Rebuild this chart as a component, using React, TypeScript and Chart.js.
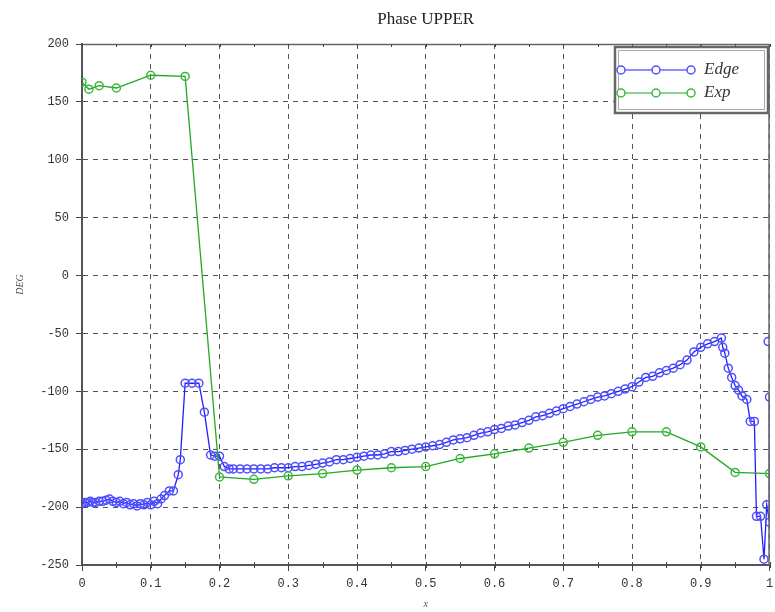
import React, { useEffect, useRef } from "react";
import { Chart, registerables } from "chart.js";

Chart.register(...registerables);

const chartTitle = "Phase UPPER";
const xAxisTitle = "x";
const yAxisTitle = "DEG";

const edgeLabel = "Edge";
const expLabel = "Exp";

const edgeX = [
  0.0, 0.004, 0.008, 0.012, 0.016, 0.02, 0.025, 0.03, 0.035, 0.04, 0.045, 0.05, 0.055, 0.06, 0.065, 0.07,
  0.075, 0.08, 0.085, 0.09, 0.095, 0.1, 0.105, 0.11, 0.115, 0.12, 0.127, 0.133, 0.14, 0.143, 0.15, 0.16,
  0.17, 0.178, 0.187, 0.193, 0.2, 0.207, 0.214, 0.22, 0.23, 0.24, 0.25, 0.26, 0.27, 0.28, 0.29, 0.3,
  0.31, 0.32, 0.33, 0.34, 0.35, 0.36, 0.37, 0.38, 0.39, 0.4, 0.41, 0.42, 0.43, 0.44, 0.45, 0.46, 0.47,
  0.48, 0.49, 0.5, 0.51, 0.52, 0.53, 0.54, 0.55, 0.56, 0.57, 0.58, 0.59, 0.6, 0.61, 0.62, 0.63, 0.64,
  0.65, 0.66, 0.67, 0.68, 0.69, 0.7, 0.71, 0.72, 0.73, 0.74, 0.75, 0.76, 0.77, 0.78, 0.79, 0.8, 0.81,
  0.82, 0.83, 0.84, 0.85, 0.86, 0.87, 0.88, 0.89, 0.9, 0.91, 0.92, 0.93, 0.932, 0.935, 0.94, 0.945,
  0.95, 0.955, 0.96, 0.967, 0.972, 0.978, 0.981, 0.987, 0.992, 0.996, 1.0, 1.0, 1.0, 0.998,
];
const edgeY: (number | null)[] = [
  -197, -196, -196, -195, -196, -196, -195, -195, -194, -193, -195, -196, -195, -197, -196, -198,
  -197, -199, -197, -198, -196, -198, -195, -197, -193, -190, -186, -186, -172, -159, -93, -93,
  -93, -118, -155, -156, -156, -165, -167, -167, -167, -167, -167, -167, -167, -166, -166, -166,
  -165, -165, -164, -163, -162, -161, -159, -159, -158, -157, -156, -155, -155, -154, -152, -152, -151,
  -150, -149, -148, -147, -146, -144, -142, -141, -140, -138, -136, -135, -133, -132, -130, -129, -127,
  -125, -122, -121, -119, -117, -115, -113, -111, -109, -107, -105, -104, -102, -100, -98, -96, -92,
  -88, -87, -84, -82, -80, -77, -73, -66, -62, -59, -57, -54, -62, -67, -80, -88,
  -95, -99, -104, -107, -126, -126, -208, -208, -245, -198, -213, -105, null, -57,
];

const expX = [
  0.0, 0.01, 0.025, 0.05, 0.1, 0.15, 0.2, 0.25, 0.3, 0.35, 0.4, 0.45, 0.5, 0.55, 0.6, 0.65, 0.7, 0.75,
  0.8, 0.85, 0.9, 0.95, 1.0,
];
const expY = [
  167, 161, 164, 162, 173, 172, -174, -176, -173, -171, -168, -166, -165, -158, -154, -149, -144, -138,
  -135, -135, -148, -170, -171,
];

const xMin = 0;
const xMax = 1;
const xStep = 0.1;
const yMin = -250;
const yMax = 200;
const yStep = 50;

const EDGE_COLOR = "#1f1fff";
const EDGE_POINT = "#4f4fff";
const EXP_COLOR = "#22a822";
const EXP_POINT = "#3cb83c";

const frameAndLegend = {
  id: "frameAndLegend",
  afterDraw(chart: any) {
    const ctx = chart.ctx as CanvasRenderingContext2D;
    const a = chart.chartArea;
    const xs = chart.scales.x;
    ctx.save();
    // top & right frame
    ctx.strokeStyle = "#666";
    ctx.lineWidth = 1.5;
    ctx.beginPath();
    ctx.moveTo(a.left, a.top + 0.5);
    ctx.lineTo(a.right, a.top + 0.5);
    ctx.moveTo(a.right - 0.5, a.top);
    ctx.lineTo(a.right - 0.5, a.bottom);
    ctx.stroke();
    // minor ticks x bottom and top ticks
    ctx.strokeStyle = "#444";
    ctx.lineWidth = 1;
    ctx.beginPath();
    for (let v = xMin; v <= xMax + 1e-9; v += xStep / 2) {
      const px = Math.round(xs.getPixelForValue(v)) + 0.5;
      ctx.moveTo(px, a.bottom - 3);
      ctx.lineTo(px, a.bottom + 3);
      ctx.moveTo(px, a.top);
      ctx.lineTo(px, a.top + 3);
    }
    ctx.stroke();

    // title
    ctx.fillStyle = "#222";
    ctx.font = "17px 'Liberation Serif', serif";
    ctx.textAlign = "center";
    ctx.textBaseline = "middle";
    ctx.fillText(chartTitle, (a.left + a.right) / 2, 20);

    // axis titles
    ctx.font = "italic 10px 'Liberation Serif', serif";
    ctx.fillStyle = "#555";
    ctx.fillText(xAxisTitle, (a.left + a.right) / 2, 604);
    ctx.save();
    ctx.translate(20, (a.top + a.bottom) / 2 - 20);
    ctx.rotate(-Math.PI / 2);
    ctx.fillText(yAxisTitle, 0, 0);
    ctx.restore();

    // legend
    const lx = 615, ly = 47, lw = 153, lh = 66;
    ctx.fillStyle = "#fff";
    ctx.fillRect(lx, ly, lw, lh);
    ctx.strokeStyle = "#666";
    ctx.lineWidth = 2.5;
    ctx.strokeRect(lx, ly, lw, lh);
    ctx.strokeStyle = "#aaa";
    ctx.lineWidth = 1;
    ctx.strokeRect(lx + 3.5, ly + 3.5, lw - 7, lh - 7);
    const items = [
      { label: edgeLabel, color: EDGE_COLOR, pcolor: EDGE_POINT, y: 70 },
      { label: expLabel, color: EXP_COLOR, pcolor: EXP_POINT, y: 93 },
    ];
    for (const it of items) {
      ctx.strokeStyle = it.color;
      ctx.lineWidth = 1;
      ctx.beginPath();
      ctx.moveTo(621, it.y);
      ctx.lineTo(691, it.y);
      ctx.stroke();
      ctx.strokeStyle = it.pcolor;
      ctx.lineWidth = 1.5;
      for (const px of [621, 656, 691]) {
        ctx.beginPath();
        ctx.arc(px, it.y, 4, 0, Math.PI * 2);
        ctx.fillStyle = "#fff";
        ctx.fill();
        ctx.stroke();
      }
      ctx.fillStyle = "#333";
      ctx.font = "italic 17px 'Liberation Serif', serif";
      ctx.textAlign = "left";
      ctx.textBaseline = "middle";
      ctx.fillText(it.label, 704, it.y);
    }
    ctx.restore();
  },
};

export default function App() {
  const ref = useRef<HTMLCanvasElement | null>(null);
  useEffect(() => {
    if (!ref.current) return;
    const edgeData = edgeX.map((x, i) => ({ x, y: edgeY[i] }));
    const expData = expX.map((x, i) => ({ x, y: expY[i] }));
    const tickFont = { family: "'Liberation Mono', monospace", size: 12 };
    const chart = new Chart(ref.current, {
      type: "line",
      data: {
        datasets: [
          {
            label: edgeLabel,
            data: edgeData as any,
            borderColor: EDGE_COLOR,
            backgroundColor: "rgba(255,255,255,0)",
            pointBorderColor: EDGE_POINT,
            pointBackgroundColor: "rgba(255,255,255,0)",
            pointRadius: 4,
            pointBorderWidth: 1.5,
            borderWidth: 1.3,
            spanGaps: false,
            order: 2,
          },
          {
            label: expLabel,
            data: expData as any,
            borderColor: EXP_COLOR,
            backgroundColor: "rgba(255,255,255,0)",
            pointBorderColor: EXP_POINT,
            pointBackgroundColor: "rgba(255,255,255,0)",
            pointRadius: 4,
            pointBorderWidth: 1.5,
            borderWidth: 1.3,
            order: 1,
          },
        ],
      },
      options: {
        animation: false,
        responsive: false,
        maintainAspectRatio: false,
        layout: { padding: { top: 44, right: 4, left: 0, bottom: 0 } },
        plugins: { legend: { display: false }, title: { display: false }, tooltip: { enabled: false } },
        scales: {
          x: {
            type: "linear",
            min: xMin,
            max: xMax,
            afterFit: (s: any) => {
              s.height = 47;
              s.paddingLeft = 0;
              s.paddingRight = 0;
            },
            ticks: {
              stepSize: xStep,
              color: "#333",
              font: tickFont,
              padding: 6,
              maxRotation: 0,
              callback: (v: any) => (v === 0 ? "0" : v === 1 ? "1" : Number(v).toFixed(1)),
            },
            grid: {
              color: "#555",
              lineWidth: 1,
              tickLength: 6,
              tickColor: "#444",
              tickWidth: 1,
              tickBorderDash: [],
            } as any,
            border: { display: true, color: "#555", width: 2, dash: [5, 5] } as any,
          },
          y: {
            type: "linear",
            min: yMin,
            max: yMax,
            afterFit: (s: any) => {
              s.width = 82;
              s.paddingTop = 0;
              s.paddingBottom = 0;
            },
            ticks: {
              stepSize: yStep,
              color: "#333",
              font: tickFont,
              padding: 7,
            },
            grid: {
              color: "#555",
              lineWidth: 1,
              tickLength: 6,
              tickColor: "#444",
              tickWidth: 1,
              tickBorderDash: [],
            } as any,
            border: { display: true, color: "#555", width: 2, dash: [5, 5] } as any,
          },
        },
      },
      plugins: [frameAndLegend],
    });
    return () => chart.destroy();
  }, []);
  return (
    <div style={{ position: "absolute", left: 0, top: 0, width: 775, height: 612, background: "#fff" }}>
      <canvas ref={ref} width={775} height={612} style={{ display: "block" }} />
    </div>
  );
}
